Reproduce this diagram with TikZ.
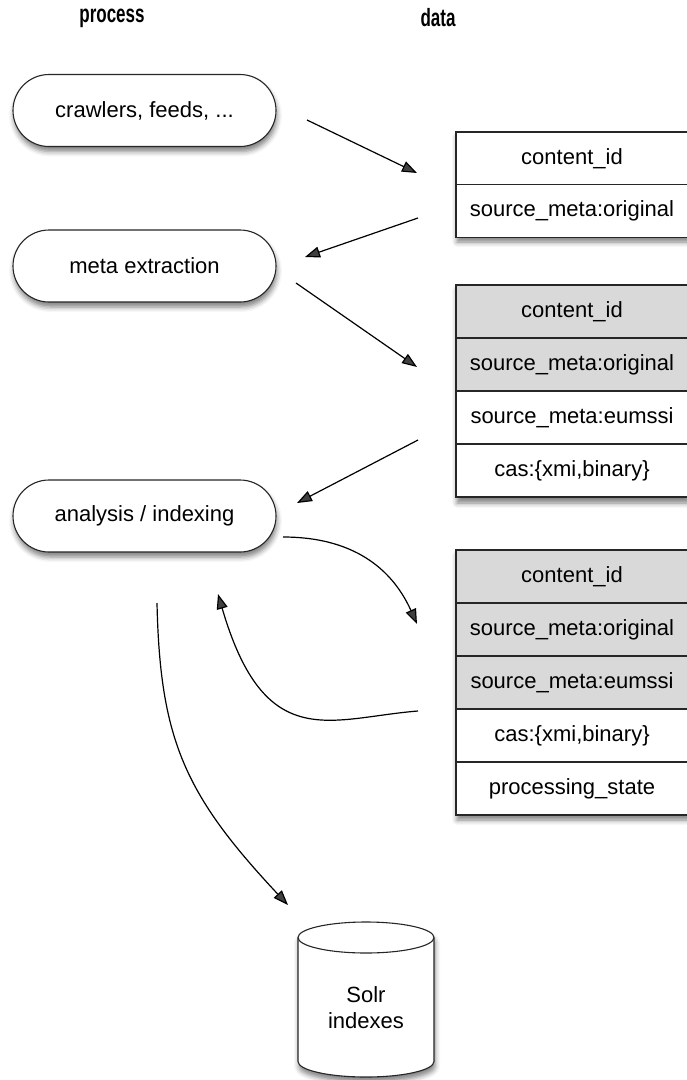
\documentclass[tikz,border=0pt]{standalone}
\usepackage{fontspec}
\setmainfont{Liberation Sans}
\newfontfamily\headfont[FakeStretch=0.68]{Liberation Sans}
\usetikzlibrary{shapes.misc,arrows.meta,shadows.blur}
\begin{document}
\begin{tikzpicture}[x=1pt,y=-1pt,
  shd/.style={blur shadow={shadow xshift=1pt, shadow yshift=-5pt, shadow blur radius=5pt, shadow opacity=50}},
  heading/.style={font=\headfont\bfseries\fontsize{25}{28}\selectfont},
  pill/.style={rounded rectangle, draw=black!85, line width=1.1pt, fill=white, shd,
    minimum width=263pt, minimum height=72pt, inner sep=0pt, font=\fontsize{22}{26}\selectfont},
  row/.style={rectangle, draw=black!85, line width=1.1pt, minimum width=232pt,
    minimum height=53pt, inner sep=0pt, font=\fontsize{22}{26}\selectfont},
  done/.style={row, fill=black!15},
  todo/.style={row, fill=white},
  tshadow/.style={fill=white, shd},
  arr/.style={line width=1.2pt, -{Triangle[length=15pt,width=11pt]}},
  cyl/.style={draw=black!85, line width=1.1pt, fill=white},
]
\useasboundingbox (0,0) rectangle (687,1080);

% headings
\node[heading] (hproc) at (112,18) {process};
\node[heading] (hdata) at (438,18) {data};

% process pills
\node[pill] (crawl) at (144.5,110.5) {crawlers, feeds, ...};
\node[pill] (meta) at (144.5,266) {meta extraction};
\node[pill] (anal) at (144.5,516) {analysis / indexing};

% table 1
\path[tshadow] (456,132) rectangle (688,237);
\node[todo] (t1a) at (572,158.5) {content\_id};
\node[todo] (t1b) at (572,211) {source\_meta:original};

% table 2
\path[tshadow] (456,285) rectangle (688,498);
\node[done] (t2a) at (572,311.5) {content\_id};
\node[done] (t2b) at (572,364.5) {source\_meta:original};
\node[todo] (t2c) at (572,417.5) {source\_meta:eumssi};
\node[todo] (t2d) at (572,470.5) {cas:\{xmi,binary\}};

% table 3
\path[tshadow] (456,550) rectangle (688,815);
\node[done] (t3a) at (572,576.5) {content\_id};
\node[done] (t3b) at (572,629.5) {source\_meta:original};
\node[done] (t3c) at (572,682.5) {source\_meta:eumssi};
\node[todo] (t3d) at (572,735.5) {cas:\{xmi,binary\}};
\node[todo] (t3e) at (572,788.5) {processing\_state};

% Solr cylinder
\path[cyl, shd] (298,937.5) -- (298,1061.5) arc[start angle=180, end angle=360, x radius=68pt, y radius=15.5pt]
  -- (434,937.5) arc[start angle=0, end angle=180, x radius=68pt, y radius=15.5pt] -- cycle;
\draw[cyl, fill=none] (298,937.5) arc[start angle=180, end angle=360, x radius=68pt, y radius=15.5pt];
\node[font=\fontsize{22}{26}\selectfont, align=center] (solr) at (366,1008) {Solr\\indexes};

% connector end points
\coordinate (a1s) at (307,120);  \coordinate (a1e) at (417,173);
\coordinate (a2s) at (418,218);  \coordinate (a2e) at (305,257);
\coordinate (a3s) at (296,283);  \coordinate (a3e) at (417,367);
\coordinate (a4s) at (418,440);  \coordinate (a4e) at (297,503);
\coordinate (a5s) at (283,537);  \coordinate (a5e) at (417,624);
\coordinate (a6s) at (418,711);  \coordinate (a6e) at (218,594);
\coordinate (a7s) at (157,603);  \coordinate (a7e) at (288,905);

\draw[arr] (a1s) -- (a1e);
\draw[arr] (a2s) -- (a2e);
\draw[arr] (a3s) -- (a3e);
\draw[arr] (a4s) -- (a4e);
\draw[arr] (a5s) .. controls (360,537) and (395,575) .. (a5e);
\draw[arr] (a6s) .. controls (330,718) and (265,755) .. (a6e);
\draw[arr] (a7s) .. controls (160,740) and (185,795) .. (a7e);
\end{tikzpicture}
\end{document}
